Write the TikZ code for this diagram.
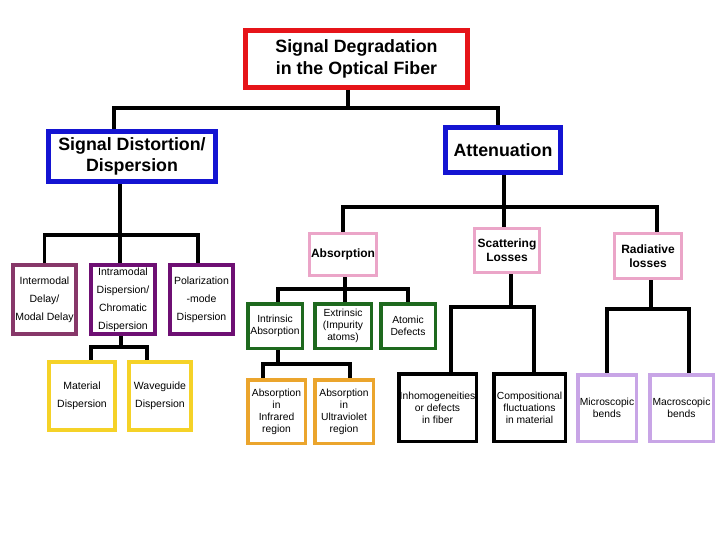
\documentclass[tikz,border=0pt]{standalone}
\usepackage{fontspec}
\setmainfont{Liberation Sans}
\usetikzlibrary{positioning}

\definecolor{degred}{RGB}{230,20,25}
\definecolor{distblue}{RGB}{20,20,210}
\definecolor{losspink}{RGB}{235,165,200}
\definecolor{modalplum}{RGB}{135,55,105}
\definecolor{chromapurple}{RGB}{110,15,115}
\definecolor{dispyellow}{RGB}{245,210,40}
\definecolor{absgreen}{RGB}{30,105,30}
\definecolor{regionorange}{RGB}{235,165,45}
\definecolor{bendviolet}{RGB}{200,165,230}

\begin{document}
\begin{tikzpicture}[x=1pt, y=-1pt, node distance=78pt]
    \tikzstyle{block} = [draw, rectangle, fill=white, align=center, inner sep=0.5pt]
    \tikzstyle{main} = [block, line width=5pt, font=\fontsize{17.8}{21.5}\selectfont\bfseries]
    \tikzstyle{loss} = [block, draw=losspink, line width=3pt, font=\fontsize{12}{14}\selectfont\bfseries]
    \tikzstyle{tall} = [block, line width=4pt, font=\fontsize{10.5}{18}\selectfont]
    \tikzstyle{small} = [block, line width=3.5pt, font=\fontsize{10.3}{12}\selectfont]
    \tikzstyle{link} = [draw, line width=3.5pt]

    \useasboundingbox (0,0) rectangle (720,540);

    % top levels
    \node [main, draw=degred, minimum width=222pt, minimum height=57pt] (degr) at (356.5,59) {Signal Degradation\\in the Optical Fiber};
    \node [main, draw=distblue, minimum width=167pt, minimum height=50pt] (distort) at (132,156.5) {Signal Distortion/\\Dispersion};
    \node [main, draw=distblue, minimum width=115pt, minimum height=45pt] (atten) at (503,150) {Attenuation};

    % dispersion side
    \node [tall, draw=modalplum, minimum width=63pt, minimum height=69pt] (inter) at (44.5,299.5) {Intermodal\\Delay/\\Modal Delay};
    \node [tall, draw=chromapurple, minimum width=64pt, minimum height=69pt, right of=inter, node distance=78.5pt] (intra) {Intramodal\\Dispersion/\\Chromatic\\Dispersion};
    \node [tall, draw=chromapurple, minimum width=63pt, minimum height=69pt, right of=intra, node distance=78.5pt] (pol) {Polarization\\-mode\\Dispersion};
    \node [tall, draw=dispyellow, minimum width=66pt, minimum height=68pt] (mat) at (82,396) {Material\\Dispersion};
    \node [tall, draw=dispyellow, minimum width=62pt, minimum height=68pt, right of=mat] (wav) {Waveguide\\Dispersion};

    % attenuation side
    \node [loss, minimum width=67pt, minimum height=42pt] (abs) at (343,254.5) {Absorption};
    \node [loss, minimum width=65pt, minimum height=44pt] (sca) at (507,250.5) {Scattering\\Losses};
    \node [loss, minimum width=67pt, minimum height=45pt] (rad) at (648,256) {Radiative\\losses};

    \node [small, draw=absgreen, minimum width=54.5pt, minimum height=44.5pt] (intr) at (275,326) {Intrinsic\\Absorption};
    \node [small, draw=absgreen, minimum width=56.5pt, minimum height=44.5pt, right of=intr, node distance=68pt] (ext) {Extrinsic\\(Impurity\\atoms)};
    \node [small, draw=absgreen, minimum width=54.5pt, minimum height=44.5pt, right of=ext, node distance=65pt] (ato) {Atomic\\Defects};
    \node [small, draw=regionorange, minimum width=57.5pt, minimum height=63.5pt] (ir) at (276.5,411.5) {Absorption\\in\\Infrared\\region};
    \node [small, draw=regionorange, minimum width=58.5pt, minimum height=63.5pt, right of=ir, node distance=67.5pt] (uv) {Absorption\\in\\Ultraviolet\\region};

    \node [small, draw=black, minimum width=77.5pt, minimum height=67.5pt] (inh) at (437.5,407.5) {Inhomogeneities\\or defects\\in fiber};
    \node [small, draw=black, minimum width=71.5pt, minimum height=67.5pt, right of=inh, node distance=92pt] (com) {Compositional\\fluctuations\\in material};
    \node [small, draw=bendviolet, minimum width=58.5pt, minimum height=66.5pt] (mic) at (607,408) {Microscopic\\bends};
    \node [small, draw=bendviolet, minimum width=63.5pt, minimum height=66.5pt, right of=mic, node distance=74.5pt] (mac) {Macroscopic\\bends};

    % junctions of the tree
    \coordinate (j0) at (348,108);
    \coordinate (j1) at (120,235);
    \coordinate (j2) at (121,347);
    \coordinate (j3) at (504,207);
    \coordinate (j4) at (345,289);
    \coordinate (j5) at (278,364);
    \coordinate (j6) at (511,307);
    \coordinate (j7) at (651,309);

    \draw [link] (j0 |- degr.south) -- (j0) -| ([xshift=-18pt]distort.north);
    \draw [link] (j0) -| ([xshift=-5pt]atten.north);

    \draw [link] (j1 |- distort.south) -- (j1) -| (inter.north);
    \draw [link] (j1) -- (j1 |- intra.north);
    \draw [link] (j1) -| ([xshift=-3.5pt]pol.north);

    \draw [link] (j2 |- intra.south) -- (j2) -| ([xshift=9pt]mat.north);
    \draw [link] (j2) -| ([xshift=-13pt]wav.north);

    \draw [link] (j3 |- atten.south) -- (j3) -| (abs.north);
    \draw [link] (j3) -- (j3 |- sca.north);
    \draw [link] (j3) -| ([xshift=9pt]rad.north);

    \draw [link] (j4 |- abs.south) -- (j4) -| ([xshift=3pt]intr.north);
    \draw [link] (j4) -- (j4 |- ext.north);
    \draw [link] (j4) -| (ato.north);

    \draw [link] (j5 |- intr.south) -- (j5) -| ([xshift=-13.5pt]ir.north);
    \draw [link] (j5) -| ([xshift=6pt]uv.north);

    \draw [link] (j6 |- sca.south) -- (j6) -| ([xshift=13.5pt]inh.north);
    \draw [link] (j6) -| ([xshift=4.5pt]com.north);

    \draw [link] (j7 |- rad.south) -- (j7) -| (mic.north);
    \draw [link] (j7) -| ([xshift=7.5pt]mac.north);
\end{tikzpicture}
\end{document}
